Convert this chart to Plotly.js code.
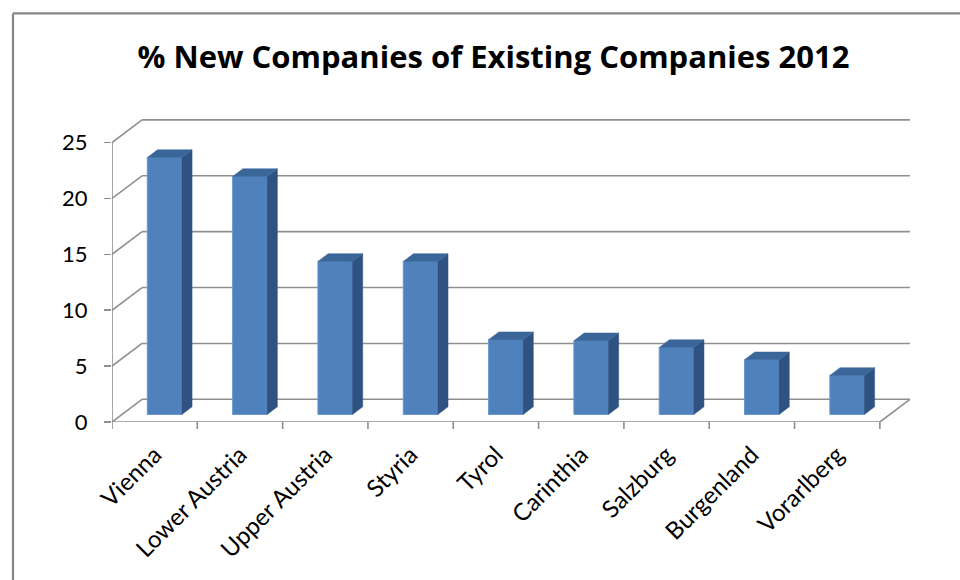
<!DOCTYPE html>
<html>
<head>
<meta charset="utf-8">
<script src="https://cdn.plot.ly/plotly-3.0.1.min.js"></script>
<style>html,body{margin:0;padding:0;background:#fff;}#chart{width:960px;height:580px;}</style>
</head>
<body>
<div id="chart"></div>
<script>
// ---- data ----
const regions = ["Vienna", "Lower Austria", "Upper Austria", "Styria", "Tyrol", "Carinthia", "Salzburg", "Burgenland", "Vorarlberg"];
const percentNew = [23.0, 21.3, 13.7, 13.7, 6.7, 6.6, 6.0, 4.9, 3.5];
const yTicks = [0, 5, 10, 15, 20, 25];
const chartTitle = "% New Companies of Existing Companies 2012";

// ---- pseudo-3D geometry (in axis units) ----
const DX = 0.352;   // full depth offset along x (category units)
const DY = 2.03;    // full depth offset along y (value units)
const D0 = 0.33;    // depth where bar front face sits
const D1 = 0.67;    // depth where bar back face sits
const BW = 0.405;   // bar width
const n = regions.length;
const xMin = -0.5, xMax = n - 0.5;

const gridColor = "#8f8f8f";
const frontColor = "#4f81bd";
const sideColor = "#2e5282";
const topColor = "#3b6699";

const L = 112, PW = 85.3, PY = 11.18, Y0PIX = 421.7;
const xRange = [xMin, xMax + 0.4];
const yRange = [0, 27.2];
const plotW = (xRange[1] - xRange[0]) * PW;
const plotH = (yRange[1] - yRange[0]) * PY;
const px = v => (v - L) / plotW;            // pixel x -> paper x
const py = v => (Y0PIX - v) / plotH;        // pixel y -> paper y

const shapes = [];
const gl = {color: gridColor, width: 1.6};
// side wall and back wall gridlines
yTicks.forEach(v => {
  shapes.push({type: "line", xref: "x", yref: "y", x0: xMin, y0: v, x1: xMin + DX, y1: v + DY, line: gl, layer: "below"});
  shapes.push({type: "line", xref: "x", yref: "y", x0: xMin + DX, y0: v + DY, x1: xMax + DX, y1: v + DY, line: gl, layer: "below"});
});
// front vertical axis line
shapes.push({type: "line", xref: "x", yref: "y", x0: xMin, y0: 0, x1: xMin, y1: yTicks[yTicks.length - 1], line: gl, layer: "below"});
// floor front edge and right edge
shapes.push({type: "line", xref: "x", yref: "y", x0: xMin, y0: 0, x1: xMax, y1: 0, line: gl, layer: "below"});
shapes.push({type: "line", xref: "x", yref: "y", x0: xMax, y0: 0, x1: xMax + DX, y1: DY, line: gl, layer: "below"});
// x tick marks at category boundaries
const tickLenPaper = 7 / plotH;
for (let i = 0; i <= n; i++) {
  shapes.push({type: "line", xref: "x", yref: "paper", x0: xMin + i, x1: xMin + i, y0: 0, y1: -tickLenPaper, line: gl});
}
// outer chart border (left and top edges)
shapes.push({type: "line", xref: "paper", yref: "paper", x0: px(13), x1: px(965), y0: py(13), y1: py(13),
  line: {color: "#868686", width: 2.2}});
shapes.push({type: "line", xref: "paper", yref: "paper", x0: px(13), x1: px(13), y0: py(13), y1: py(590),
  line: {color: "#868686", width: 2.2}});

const traces = [];
const xc = regions.map((_, i) => i + D0 * DX);
const baseY = D0 * DY;
const ddx = (D1 - D0) * DX, ddy = (D1 - D0) * DY;

// side faces
const sx = [], sy = [];
percentNew.forEach((v, i) => {
  const xr = xc[i] + BW / 2;
  sx.push(xr, xr + ddx, xr + ddx, xr, xr, null);
  sy.push(baseY, baseY + ddy, baseY + v + ddy, baseY + v, baseY, null);
});
traces.push({type: "scatter", mode: "lines", x: sx, y: sy, fill: "toself", fillcolor: sideColor,
  line: {color: sideColor, width: 0.5}, hoverinfo: "skip", showlegend: false});
// top faces
const tx = [], ty = [];
percentNew.forEach((v, i) => {
  const xl = xc[i] - BW / 2, xr = xc[i] + BW / 2;
  tx.push(xl, xr, xr + ddx, xl + ddx, xl, null);
  ty.push(baseY + v, baseY + v, baseY + v + ddy, baseY + v + ddy, baseY + v, null);
});
traces.push({type: "scatter", mode: "lines", x: tx, y: ty, fill: "toself", fillcolor: topColor,
  line: {color: topColor, width: 0.5}, hoverinfo: "skip", showlegend: false});
// front faces
traces.push({type: "bar", x: xc, y: percentNew, base: baseY, width: BW,
  marker: {color: frontColor, line: {color: "#6c97cc", width: 1}}, hoverinfo: "y", showlegend: false});

const layout = {
  width: 960, height: 580,
  paper_bgcolor: "#ffffff", plot_bgcolor: "rgba(0,0,0,0)",
  margin: {l: L, r: 960 - L - plotW, t: Y0PIX - plotH, b: 580 - Y0PIX, pad: 0},
  font: {family: "Lato, 'Open Sans', sans-serif", color: "#000000"},
  title: {text: "<b>" + chartTitle + "</b>", font: {size: 31, family: "'Open Sans', Lato, sans-serif", color: "#000"},
    x: 493.5 / 960, xanchor: "center", xref: "container", y: 1 - 57 / 580, yanchor: "middle", yref: "container"},
  xaxis: {range: xRange, showgrid: false, zeroline: false, showline: false,
    tickmode: "array", tickvals: regions.map((_, i) => i), ticktext: regions,
    tickangle: -45, ticks: "", ticklabelstandoff: 13, tickfont: {size: 24}, fixedrange: true},
  yaxis: {range: yRange, showgrid: false, zeroline: false, showline: false,
    tickmode: "array", tickvals: yTicks, ticks: "outside", ticklen: 7, tickwidth: 1.6, tickcolor: gridColor,
    ticklabelstandoff: 12, tickfont: {size: 22}, fixedrange: true},
  shapes: shapes,
  bargap: 0
};

Plotly.newPlot("chart", traces, layout, {displayModeBar: false, staticPlot: true});
</script>
</body>
</html>
